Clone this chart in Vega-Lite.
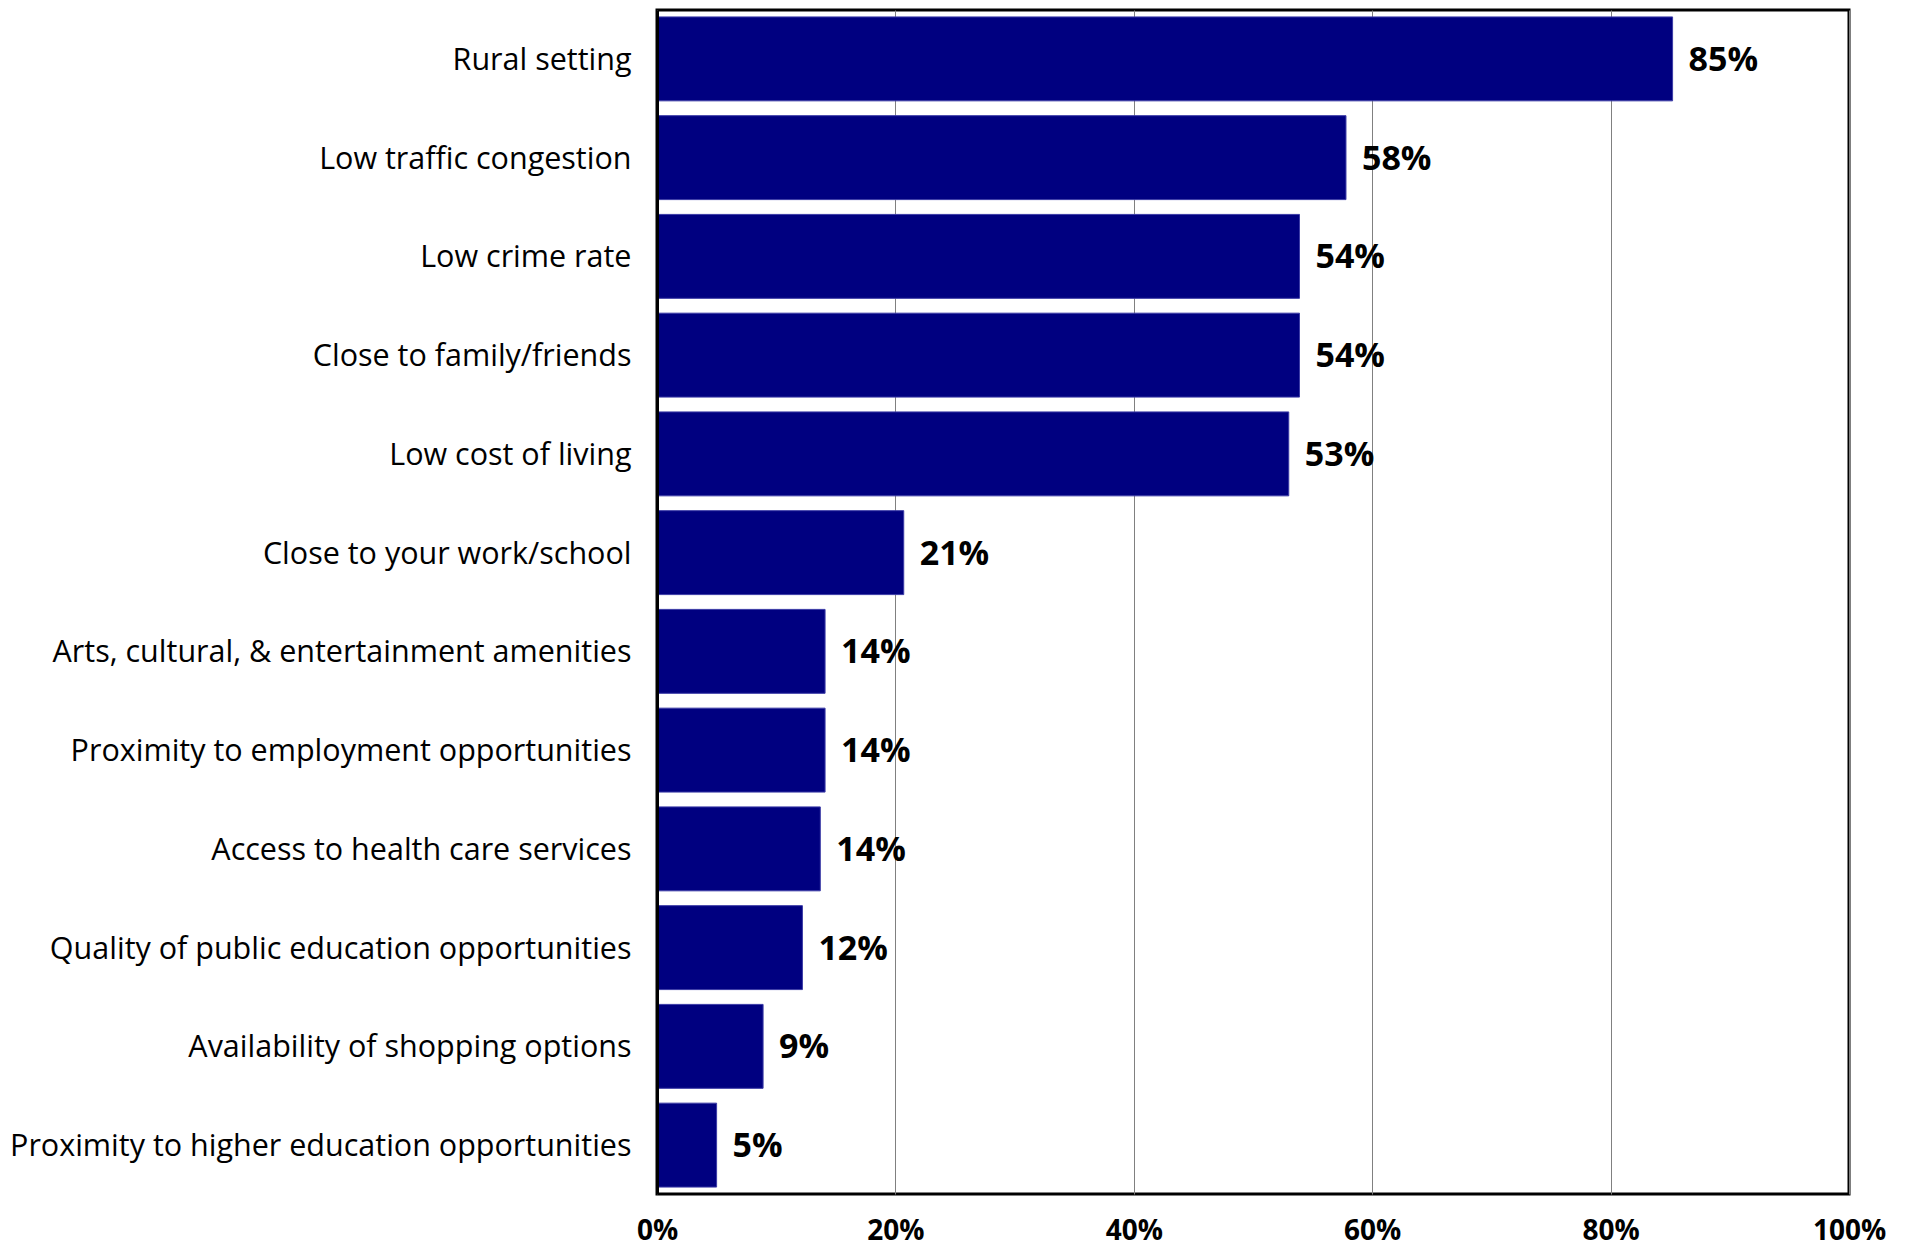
{
  "$schema": "https://vega.github.io/schema/vega-lite/v6.json",
  "autosize": {"type": "none"},
  "width": 1192,
  "height": 1184,
  "padding": {"left": 657, "top": 10, "right": 62, "bottom": 54},
  "background": "white",
  "config": {
    "view": {"stroke": "black", "strokeWidth": 3},
    "font": "Open Sans"
  },
  "data": {
    "values": [
      {"factor": "Rural setting", "value": 0.852},
      {"factor": "Low traffic congestion", "value": 0.578},
      {"factor": "Low crime rate", "value": 0.539},
      {"factor": "Close to family/friends", "value": 0.539},
      {"factor": "Low cost of living", "value": 0.530},
      {"factor": "Close to your work/school", "value": 0.207},
      {"factor": "Arts, cultural, & entertainment amenities", "value": 0.141},
      {"factor": "Proximity to employment opportunities", "value": 0.141},
      {"factor": "Access to health care services", "value": 0.137},
      {"factor": "Quality of public education opportunities", "value": 0.122},
      {"factor": "Availability of shopping options", "value": 0.089},
      {"factor": "Proximity to higher education opportunities", "value": 0.050}
    ]
  },
  "encoding": {
    "y": {
      "field": "factor",
      "type": "nominal",
      "sort": null,
      "scale": {"paddingInner": 0.15, "paddingOuter": 0.07},
      "axis": {
        "title": null,
        "ticks": false,
        "domain": true,
        "domainColor": "black",
        "domainWidth": 3,
        "zindex": 1,
        "labelFont": "Open Sans",
        "labelFontSize": 30.5,
        "labelColor": "black",
        "labelPadding": 26,
        "labelOffset": 2,
        "labelLimit": 0
      }
    },
    "x": {
      "field": "value",
      "type": "quantitative",
      "scale": {"domain": [0, 1], "nice": false},
      "axis": {
        "title": null,
        "format": ".0%",
        "values": [0, 0.2, 0.4, 0.6, 0.8, 1],
        "ticks": false,
        "domain": false,
        "grid": true,
        "gridColor": "#808080",
        "gridWidth": 1,
        "labelFlush": false,
        "labelFont": "Open Sans",
        "labelFontSize": 28,
        "labelFontWeight": "bold",
        "labelColor": "black",
        "labelBaseline": "middle",
        "labelPadding": 37
      }
    }
  },
  "layer": [
    {
      "mark": {"type": "bar", "color": "#000080", "stroke": "#3b3ba6", "strokeWidth": 1}
    },
    {
      "mark": {
        "type": "text",
        "align": "left",
        "baseline": "middle",
        "dx": 16,
        "dy": 2,
        "font": "Open Sans",
        "fontSize": 34,
        "fontWeight": "bold",
        "color": "black"
      },
      "encoding": {
        "text": {"field": "value", "type": "quantitative", "format": ".0%"}
      }
    }
  ]
}
